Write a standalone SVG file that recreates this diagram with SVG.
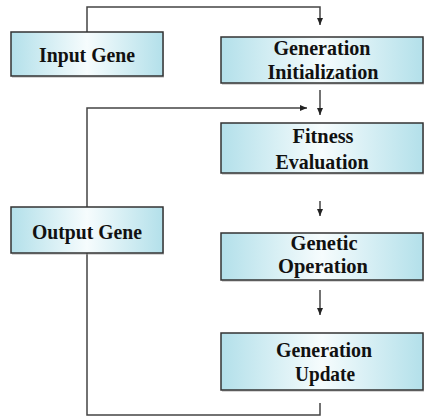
<svg xmlns="http://www.w3.org/2000/svg" width="426" height="417" viewBox="0 0 426 417">
<defs>
<linearGradient id="g" x1="0" y1="0" x2="1" y2="0">
<stop offset="0" stop-color="#b3e0ea"/>
<stop offset="0.5" stop-color="#f6fcfd"/>
<stop offset="1" stop-color="#b3e0ea"/>
</linearGradient>
<marker id="ah" markerWidth="8" markerHeight="8" refX="7" refY="4" orient="auto" markerUnits="userSpaceOnUse">
<path d="M0,1 L7,4 L0,7 Z" fill="#222"/>
</marker>
</defs>
<style>
.box{fill:url(#g);stroke:#333;stroke-width:1.5}
.sh{fill:#999;opacity:0.4}
.t{font-family:"Liberation Serif","Times New Roman",serif;font-weight:bold;font-size:22px;fill:#111;text-anchor:middle}
.s{font-size:21px}
.c{fill:none;stroke:#444;stroke-width:1.5}
</style>
<rect width="426" height="417" fill="#fff"/>
<g id="connectors">
<polyline class="c" points="87,32 87,7 320,7 320,25" marker-end="url(#ah)"/>
<line class="c" x1="320" y1="90" x2="320" y2="115" marker-end="url(#ah)"/>
<polyline class="c" points="87,207 87,108 307,108" marker-end="url(#ah)"/>
<line class="c" x1="320" y1="201" x2="320" y2="216" marker-end="url(#ah)"/>
<line class="c" x1="320" y1="290" x2="320" y2="315" marker-end="url(#ah)"/>
<polyline class="c" points="320,403 320,415 87,415 87,253"/>
</g>
<g id="input-gene">
<rect class="sh" x="12" y="33" width="152" height="45"/>
<rect class="box" x="11" y="32" width="152" height="44"/>
<text class="t" x="87" y="62" textLength="96" lengthAdjust="spacingAndGlyphs">Input Gene</text>
</g>
<g id="output-gene">
<rect class="sh" x="12" y="208" width="152" height="47"/>
<rect class="box" x="11" y="207" width="152" height="46"/>
<text class="t" x="87" y="239" textLength="110" lengthAdjust="spacingAndGlyphs">Output Gene</text>
</g>
<g id="generation-initialization">
<rect class="sh" x="222" y="38" width="202" height="47"/>
<rect class="box" x="221" y="37" width="202" height="46"/>
<text class="t" x="322" y="55" textLength="97" lengthAdjust="spacingAndGlyphs">Generation</text>
<text class="t" x="323" y="79" textLength="111" lengthAdjust="spacingAndGlyphs">Initialization</text>
</g>
<g id="fitness-evaluation">
<rect class="sh" x="222" y="124" width="202" height="51"/>
<rect class="box" x="221" y="123" width="202" height="50"/>
<text class="t" x="323" y="143" textLength="61" lengthAdjust="spacingAndGlyphs">Fitness</text>
<text class="t" x="322" y="169" textLength="93" lengthAdjust="spacingAndGlyphs">Evaluation</text>
</g>
<g id="genetic-operation">
<rect class="sh" x="222" y="234" width="202" height="48"/>
<rect class="box" x="221" y="233" width="202" height="47"/>
<text class="t s" x="324" y="250" textLength="67" lengthAdjust="spacingAndGlyphs">Genetic</text>
<text class="t s" x="323" y="273" textLength="90" lengthAdjust="spacingAndGlyphs">Operation</text>
</g>
<g id="generation-update">
<rect class="sh" x="222" y="334" width="202" height="58"/>
<rect class="box" x="221" y="333" width="202" height="57"/>
<text class="t" x="324" y="357" textLength="96" lengthAdjust="spacingAndGlyphs">Generation</text>
<text class="t" x="325" y="381" textLength="60" lengthAdjust="spacingAndGlyphs">Update</text>
</g>
</svg>
